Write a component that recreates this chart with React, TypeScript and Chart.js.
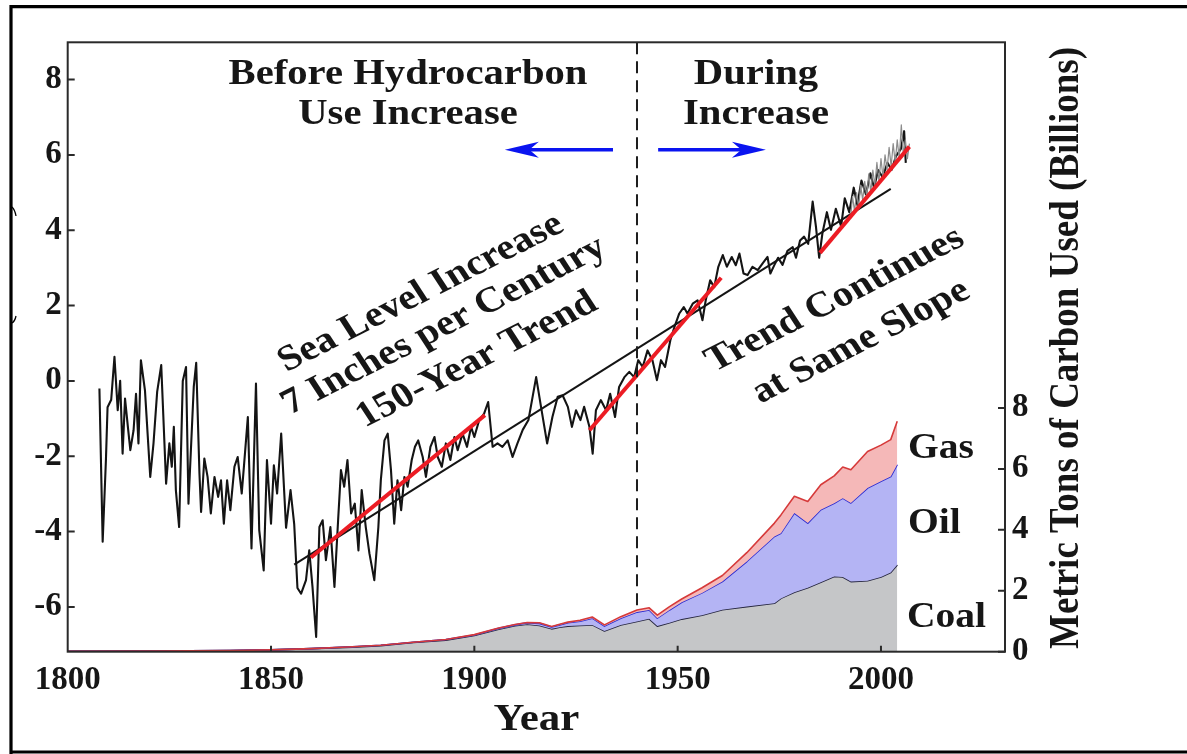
import { useEffect, useRef } from 'react';
import { Chart, registerables } from 'chart.js';

Chart.register(...registerables);

// Sea level record (inches), read year by year
const seaYears = [
  1807.8, 1808.6, 1809.4, 1809.8, 1810.7, 1811.5, 1812.3, 1812.9, 1813.5, 1814.1,
  1814.8, 1815.4, 1816.2, 1816.8, 1817.4, 1818.0, 1819.0, 1820.3, 1821.1, 1822.0,
  1823.0, 1824.2, 1825.0, 1825.6, 1826.1, 1826.6, 1827.4, 1828.3, 1829.1, 1829.7,
  1831.0, 1831.6, 1832.4, 1832.8, 1833.6, 1834.4, 1835.2, 1836.1, 1837.0, 1837.7,
  1838.4, 1839.2, 1840.0, 1841.0, 1841.8, 1842.8, 1843.4, 1844.3, 1845.2, 1846.3,
  1847.1, 1848.2, 1849.0, 1850.0, 1850.7, 1851.5, 1852.5, 1853.7, 1854.8, 1855.7,
  1856.5, 1857.4, 1858.6, 1859.4, 1860.2, 1861.1, 1861.9, 1862.7, 1863.5, 1864.6,
  1865.6, 1866.5, 1867.2, 1868.0, 1868.8, 1869.7, 1870.6, 1871.5, 1872.3, 1873.3,
  1874.2, 1875.4, 1876.4, 1877.0, 1877.9, 1878.7, 1879.5, 1880.3, 1881.1, 1882.0,
  1882.8, 1883.6, 1884.6, 1885.4, 1886.2, 1887.3, 1888.1, 1889.2, 1890.2, 1891.0,
  1892.0, 1893.0, 1894.1, 1895.1, 1895.9, 1897.1, 1898.2, 1899.2, 1900.0, 1901.2,
  1902.4, 1903.4, 1904.5, 1905.7, 1906.9, 1908.2, 1909.4, 1910.6, 1911.9, 1913.3,
  1915.2, 1916.4, 1917.9, 1919.2, 1920.5, 1921.7, 1923.0, 1924.0, 1925.0, 1926.1,
  1927.0, 1928.3, 1929.1, 1929.9, 1931.1, 1932.4, 1933.4, 1934.6, 1935.6, 1936.9,
  1938.1, 1939.3, 1940.3, 1941.4, 1942.6, 1943.8, 1944.9, 1945.9, 1946.9, 1948.2,
  1949.2, 1950.4, 1951.5, 1952.4, 1953.7, 1954.9, 1956.1, 1956.9, 1958.0, 1959.0,
  1960.0, 1961.1, 1962.1, 1963.3, 1964.3, 1965.2, 1966.2, 1967.2, 1968.4, 1969.7,
  1970.9, 1972.1, 1972.8, 1973.8, 1974.7, 1975.8, 1977.0, 1978.3, 1979.1, 1980.1,
  1981.1, 1982.1, 1983.2, 1984.0, 1984.8, 1985.6, 1986.7, 1987.7, 1988.9, 1990.2,
  1991.1, 1992.2, 1993.3, 1994.2, 1995.2, 1996.3, 1997.4, 1998.3, 1999.3, 2000.4,
  2001.6, 2002.6, 2003.7, 2004.9, 2005.7, 2006.1,
];
const seaLevels = [
  -0.2, -4.27, -2.1, -0.7, -0.5, 0.64, -0.78, 0.0, -1.93, -0.47,
  -1.22, -1.84, -1.31, -0.34, -1.66, 0.55, -0.25, -2.55, -1.66, -0.29,
  0.42, -2.73, -1.66, -2.28, -1.22, -2.9, -3.88, 0.0, 0.37, -3.26,
  -0.16, 0.48, -2.46, -3.48, -2.06, -2.55, -3.52, -2.55, -3.08, -2.64,
  -3.79, -2.64, -3.43, -2.28, -2.02, -2.99, -2.19, -0.96, -4.45, -0.07,
  -3.96, -5.03, -2.1, -3.79, -2.24, -2.99, -1.4, -3.9, -2.9, -3.8,
  -5.5, -5.65, -5.29, -4.5, -5.47, -6.8, -3.88, -3.7, -4.76, -3.88,
  -5.47, -3.7, -2.37, -2.81, -2.1, -3.52, -3.26, -4.5, -2.9, -3.88,
  -4.58, -5.29, -3.88, -2.64, -1.58, -1.4, -2.37, -3.79, -2.64, -3.43,
  -2.55, -2.81, -2.1, -1.75, -1.58, -2.02, -2.55, -1.75, -1.49, -2.02,
  -2.28, -1.66, -2.1, -1.49, -1.84, -1.4, -1.75, -1.22, -1.49, -1.04,
  -0.87, -0.56, -1.75, -1.66, -1.75, -1.58, -2.02, -1.66, -1.3, -1.04,
  0.1, -0.69, -1.66, -0.96, -0.42, -0.38, -0.69, -1.22, -0.78, -1.04,
  -0.69, -1.22, -1.93, -0.78, -0.51, -0.78, -0.34, -0.96, -0.16, 0.1,
  0.24, 0.1, 0.55, 0.37, 0.81, 0.55, 0.02, 0.55, 0.37, 1.08,
  1.43, 1.79, 1.96, 1.79, 2.05, 2.14, 1.61, 2.14, 2.67, 2.49,
  3.03, 3.34, 3.03, 3.29, 3.07, 3.38, 2.85, 2.81, 3.03, 2.94,
  3.12, 3.29, 2.85, 3.08, 3.27, 3.08, 3.45, 3.55, 3.27, 3.73,
  3.83, 3.64, 4.76, 4.1, 3.27, 3.92, 4.48, 4.01, 4.57, 4.1,
  4.85, 4.48, 5.13, 4.67, 5.32, 4.95, 5.51, 5.13, 5.6, 5.41,
  5.79, 5.6, 5.97, 6.16, 6.63, 5.79,
];

// Satellite-era record (grey trace)
const satYears = [
  1992.5, 1993.0, 1993.5, 1994.0, 1994.5, 1995.0, 1995.5, 1996.0, 1996.5, 1997.0,
  1997.5, 1998.0, 1998.5, 1999.0, 1999.5, 2000.0, 2000.5, 2001.0, 2001.5, 2002.0,
  2002.5, 2003.0, 2003.5, 2004.0, 2004.5, 2005.0, 2005.5, 2006.0, 2006.5, 2007.0,
];
const satLevels = [
  4.3, 4.9, 4.5, 5.0, 4.6, 5.2, 4.8, 5.3, 4.9, 5.5,
  5.0, 5.6, 5.2, 5.8, 5.3, 5.9, 5.4, 6.0, 5.6, 6.2,
  5.7, 6.3, 5.8, 6.4, 5.9, 6.8, 6.0, 6.4, 5.9, 6.3,
];

// 150-year fit
const trendYears = [1855.7, 2002.4];
const trendLevels = [-4.88, 5.1];

// Shorter fits over three windows
const fitYears = [
  [1859.8, 1902.6],
  [1928.3, 1960.7],
  [1985.0, 2007.0],
];
const fitLevels = [
  [-4.69, -0.91],
  [-1.31, 2.74],
  [3.4, 6.22],
];

// Carbon used per year, billions of metric tons
const carbonYears = [
  1800, 1820, 1840, 1850, 1860, 1870, 1877, 1885, 1893, 1900,
  1906, 1910, 1913, 1916, 1919, 1921, 1923, 1926, 1929, 1932,
  1936, 1940, 1943, 1945, 1948, 1951, 1956, 1961, 1967, 1973.8,
  1975.4, 1978.7, 1982, 1985.2, 1988.5, 1990.6, 1992.6, 1996.7, 2000, 2002.4,
  2004,
];
const coalUse = [
  0.01, 0.02, 0.04, 0.06, 0.1, 0.15, 0.2, 0.3, 0.38, 0.53,
  0.74, 0.85, 0.9, 0.86, 0.75, 0.8, 0.84, 0.86, 0.88, 0.68,
  0.88, 0.99, 1.08, 0.84, 0.95, 1.07, 1.2, 1.38, 1.48, 1.59,
  1.75, 1.95, 2.1, 2.28, 2.47, 2.45, 2.3, 2.33, 2.45, 2.6,
  2.85,
];
const oilUse = [
  0, 0, 0, 0, 0, 0.01, 0.01, 0.01, 0.02, 0.02,
  0.03, 0.03, 0.05, 0.07, 0.06, 0.08, 0.11, 0.14, 0.22, 0.16,
  0.22, 0.31, 0.29, 0.26, 0.42, 0.55, 0.73, 0.92, 1.48, 2.19,
  2.14, 2.6, 2.12, 2.38, 2.4, 2.59, 2.58, 3.04, 3.14, 3.15,
  3.29,
];
const gasUse = [
  0, 0, 0, 0, 0, 0, 0, 0, 0, 0.01,
  0.01, 0.01, 0.01, 0.02, 0.02, 0.02, 0.02, 0.03, 0.04, 0.04,
  0.05, 0.07, 0.07, 0.1, 0.11, 0.11, 0.17, 0.2, 0.29, 0.44,
  0.6, 0.55, 0.71, 0.82, 0.9, 1.02, 1.09, 1.2, 1.19, 1.21,
  1.42,
];

const yearTicks = [1800, 1850, 1900, 1950, 2000];
const seaTicks = [-6, -4, -2, 0, 2, 4, 6, 8];
const carbonTicks = [0, 2, 4, 6, 8];

const dividerYear = 1940;
const arrowLevel = 6.14;
const leftArrowYears = [1934.1, 1907.5];
const rightArrowYears = [1945.2, 1971.7];

const SERIF = "'Liberation Serif', 'Times New Roman', serif";
const INK = '#161616';
const SX = 1.13;

const pts = (xs: number[], ys: number[]) => xs.map((x, i) => ({ x, y: ys[i] }));

const coalTop = coalUse.map((c) => c);
const oilTop = coalUse.map((c, i) => c + oilUse[i]);
const gasTop = oilTop.map((o, i) => o + gasUse[i]);

function label(
  ctx: CanvasRenderingContext2D,
  str: string,
  x: number,
  y: number,
  size: number,
  align: CanvasTextAlign = 'center',
  rot = 0,
  baseline: CanvasTextBaseline = 'alphabetic'
) {
  ctx.save();
  ctx.translate(x, y);
  ctx.scale(SX, 1);
  if (rot) ctx.rotate(rot);
  ctx.font = `bold ${size}px ${SERIF}`;
  ctx.textAlign = align;
  ctx.textBaseline = baseline;
  ctx.fillStyle = INK;
  ctx.fillText(str, 0, 0);
  ctx.restore();
}

function arrow(ctx: CanvasRenderingContext2D, x0: number, x1: number, y: number) {
  const dir = Math.sign(x1 - x0);
  const head = 34;
  const half = 8;
  ctx.save();
  ctx.strokeStyle = '#0a14f0';
  ctx.fillStyle = '#0a14f0';
  ctx.lineWidth = 3.5;
  ctx.beginPath();
  ctx.moveTo(x0, y);
  ctx.lineTo(x1 - dir * head * 0.7, y);
  ctx.stroke();
  ctx.beginPath();
  ctx.moveTo(x1, y);
  ctx.lineTo(x1 - dir * head, y - half);
  ctx.lineTo(x1 - dir * head * 0.72, y);
  ctx.lineTo(x1 - dir * head, y + half);
  ctx.closePath();
  ctx.fill();
  ctx.restore();
}

const decor = {
  id: 'decor',
  afterDraw(chart: any) {
    const ctx: CanvasRenderingContext2D = chart.ctx;
    const { left, right, top, bottom } = chart.chartArea;
    const sx = chart.scales.x;
    const sy = chart.scales.y;
    const sr = chart.scales.yR;

    // divider between the two periods
    const dx = sx.getPixelForValue(dividerYear);
    const di = carbonYears.indexOf(dividerYear);
    const dBottom = sr.getPixelForValue(gasTop[di]);
    ctx.save();
    ctx.strokeStyle = '#1e1e1e';
    ctx.lineWidth = 2;
    ctx.setLineDash([12, 7]);
    ctx.beginPath();
    ctx.moveTo(dx, top);
    ctx.lineTo(dx, dBottom);
    ctx.stroke();
    ctx.restore();

    // direction arrows
    const ay = sy.getPixelForValue(arrowLevel);
    arrow(ctx, sx.getPixelForValue(leftArrowYears[0]), sx.getPixelForValue(leftArrowYears[1]), ay);
    arrow(ctx, sx.getPixelForValue(rightArrowYears[0]), sx.getPixelForValue(rightArrowYears[1]), ay);

    // plot frame
    ctx.save();
    ctx.strokeStyle = '#2a2a2a';
    ctx.lineWidth = 2;
    ctx.strokeRect(left, top, right - left, bottom - top);

    // inward tick marks
    ctx.lineWidth = 2;
    ctx.beginPath();
    seaTicks.forEach((v) => {
      const y = sy.getPixelForValue(v);
      ctx.moveTo(left, y);
      ctx.lineTo(left + 7, y);
    });
    carbonTicks.forEach((v) => {
      const y = sr.getPixelForValue(v);
      ctx.moveTo(right - 7, y);
      ctx.lineTo(right, y);
    });
    yearTicks.forEach((v) => {
      const x = sx.getPixelForValue(v);
      if (x - left < 3) return;
      ctx.moveTo(x, bottom);
      ctx.lineTo(x, bottom - 6);
    });
    ctx.stroke();
    ctx.restore();

    // headings
    label(ctx, 'Before Hydrocarbon', 408, 83.5, 36);
    label(ctx, 'Use Increase', 408, 123.5, 36);
    label(ctx, 'During', 756, 83.5, 36);
    label(ctx, 'Increase', 756, 123.5, 36);

    // slanted notes
    const rot = -Math.atan(Math.tan((33 * Math.PI) / 180) / SX);
    label(ctx, 'Sea Level Increase', 421, 293, 36, 'center', rot, 'middle');
    label(ctx, '7 Inches per Century', 444, 326, 36, 'center', rot, 'middle');
    label(ctx, '150-Year Trend', 477, 360, 36, 'center', rot, 'middle');
    label(ctx, 'Trend Continues', 835, 300, 36, 'center', rot, 'middle');
    label(ctx, 'at Same Slope', 861, 342, 36, 'center', rot, 'middle');

    // fuel names
    label(ctx, 'Gas', 908, 458, 35, 'left');
    label(ctx, 'Oil', 908, 533, 35, 'left');
    label(ctx, 'Coal', 907, 627, 35, 'left');

    // axis titles
    label(ctx, 'Year', (left + right) / 2, 730, 38);
    label(ctx, 'Metric Tons of Carbon Used (Billions)', 1078, 348, 37, 'center', -Math.PI / 2);

    // outer frame
    ctx.save();
    ctx.strokeStyle = '#000';
    ctx.lineWidth = 3.2;
    ctx.beginPath();
    ctx.moveTo(11, 754);
    ctx.lineTo(11, 6.7);
    ctx.lineTo(1187, 6.7);
    ctx.moveTo(11, 752);
    ctx.lineTo(1187, 752);
    ctx.stroke();
    ctx.lineWidth = 1.3;
    ctx.beginPath();
    ctx.moveTo(12, 207);
    ctx.quadraticCurveTo(15, 210, 16, 216);
    ctx.moveTo(16, 316);
    ctx.quadraticCurveTo(15, 321, 12, 323);
    ctx.stroke();
    ctx.restore();
  },
};

const tickFont = { family: SERIF, size: 33, weight: 'bold' as const };
const plain = (v: any) => String(v);

export default function App() {
  const ref = useRef<HTMLCanvasElement | null>(null);

  useEffect(() => {
    const canvas = ref.current;
    if (!canvas) return;

    const line = (data: any[], color: string, width: number, order: number, axis = 'y') => ({
      data,
      borderColor: color,
      borderWidth: width,
      pointRadius: 0,
      fill: false,
      tension: 0,
      order,
      yAxisID: axis,
    });

    const chart = new Chart(canvas, {
      type: 'line',
      data: {
        datasets: [
          {
            ...line(pts(carbonYears, coalTop), '#24243e', 1.6, 6, 'yR'),
            fill: 'origin',
            backgroundColor: 'rgb(197,198,200)',
          },
          {
            ...line(pts(carbonYears, oilTop), '#2a2ad2', 1.6, 5, 'yR'),
            fill: '-1',
            backgroundColor: 'rgb(180,180,244)',
          },
          {
            ...line(pts(carbonYears, gasTop), '#d63a3a', 1.6, 4, 'yR'),
            fill: '-1',
            backgroundColor: 'rgb(245,184,184)',
          },
          line(pts(seaYears, seaLevels), '#141414', 2.1, 3),
          line(pts(trendYears, trendLevels), '#141414', 2, 2),
          line(pts(satYears, satLevels), '#8c8c8c', 1.2, 1),
          ...fitYears.map((ys, i) => line(pts(ys, fitLevels[i]), '#ec1c24', 4, 0)),
        ] as any,
      },
      options: {
        animation: false,
        responsive: false,
        devicePixelRatio: 1,
        layout: { padding: { top: 42.3, left: 0, right: 0, bottom: 0 } },
        plugins: { legend: { display: false }, tooltip: { enabled: false } },
        elements: { line: { borderCapStyle: 'butt', borderJoinStyle: 'round' } },
        scales: {
          x: {
            type: 'linear',
            min: 1800,
            max: 2030.5,
            grid: { display: false, drawTicks: false },
            border: { display: false },
            ticks: { font: tickFont, color: INK, padding: 9, maxRotation: 0, callback: plain },
            afterBuildTicks: (s: any) => {
              s.ticks = yearTicks.map((value) => ({ value }));
            },
            afterFit: (s: any) => {
              s.height = 102.3;
            },
          },
          y: {
            type: 'linear',
            position: 'left',
            min: -7.19,
            max: 8.99,
            grid: { display: false, drawTicks: false },
            border: { display: false },
            ticks: { font: tickFont, color: INK, padding: 6, callback: plain },
            afterBuildTicks: (s: any) => {
              s.ticks = seaTicks.map((value) => ({ value }));
            },
            afterFit: (s: any) => {
              s.width = 67.7;
            },
          },
          yR: {
            type: 'linear',
            position: 'right',
            min: 0,
            max: 20,
            grid: { display: false, drawTicks: false },
            border: { display: false },
            ticks: { font: tickFont, color: INK, padding: 7, callback: plain },
            afterBuildTicks: (s: any) => {
              s.ticks = carbonTicks.map((value) => ({ value }));
            },
            afterFit: (s: any) => {
              s.width = 182;
            },
          },
        },
      } as any,
      plugins: [decor],
    });

    return () => chart.destroy();
  }, []);

  return (
    <div style={{ position: 'absolute', left: 0, top: 0, width: 1187, height: 754, background: '#fff' }}>
      <canvas ref={ref} width={1187} height={754} style={{ display: 'block', width: 1187, height: 754 }} />
    </div>
  );
}
